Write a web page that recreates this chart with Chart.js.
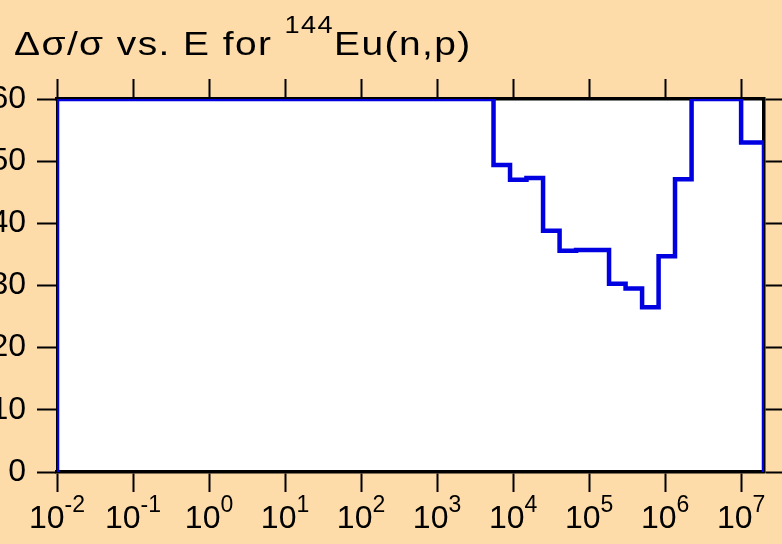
<!DOCTYPE html>
<html>
<head>
<meta charset="utf-8">
<script src="https://cdn.jsdelivr.net/npm/chart.js@4/dist/chart.umd.min.js"></script>
<style>
  html, body { margin: 0; padding: 0; background: #fddcaa; }
  #wrap { position: relative; width: 782px; height: 544px; }
</style>
</head>
<body>
<div id="wrap"><canvas id="errPlot"></canvas></div>
<script>
// group boundaries (eV) and relative uncertainty (%) per group
const edges  = [1e-2, 5.53e3, 9.12e3, 1.5e4, 2.48e4, 4.09e4, 6.74e4, 1.11e5, 1.83e5,
                3.02e5, 4.98e5, 8.21e5, 1.35e6, 2.23e6, 1e7, 2e7];
const relErr = [60, 49.4, 47.0, 47.3, 38.8, 35.6, 35.7, 35.7, 30.3,
                29.5, 26.5, 34.7, 47.1, 60, 53.0];
const xDecades = [-2, -1, 0, 1, 2, 3, 4, 5, 6, 7];
const yTicks   = [0, 10, 20, 30, 40, 50, 60];

const FONT = "'Liberation Sans', Arial, sans-serif";

// histogram outline: rise at the first edge, step through groups, drop at the last edge
const pts = [{ x: edges[0], y: 0 }];
relErr.forEach((v, i) => pts.push({ x: edges[i], y: v }));
pts.push({ x: edges[edges.length - 1], y: relErr[relErr.length - 1] });
pts.push({ x: edges[edges.length - 1], y: 0 });

const tickGrid = { drawOnChartArea: false, tickLength: 20, tickWidth: 2, color: '#000' };

function decadeTicks(scale) {
  scale.ticks = xDecades.map(e => ({ value: Math.pow(10, e) }));
}

const plotBg = {
  id: 'plotBg',
  beforeDraw(chart) {
    const { ctx, chartArea: a } = chart;
    ctx.save();
    ctx.fillStyle = '#fff';
    ctx.fillRect(a.left, a.top, a.right - a.left, a.bottom - a.top);
    ctx.restore();
  }
};

// title and 10^n tick labels need superscripts, so draw them by hand
const labels = {
  id: 'labels',
  afterDraw(chart) {
    const ctx = chart.ctx;
    const sx = chart.scales.x;
    ctx.save();
    ctx.fillStyle = '#000';
    ctx.textBaseline = 'alphabetic';
    ctx.textAlign = 'left';

    // title, slightly widened
    ctx.save();
    ctx.translate(14, 0);
    ctx.scale(1.18, 1);
    ctx.letterSpacing = '1.2px';
    let x = 0;
    const t1 = 'Δσ/σ vs. E for ';
    ctx.font = `33px ${FONT}`;
    ctx.fillText(t1, x, 55);
    x += ctx.measureText(t1).width;
    ctx.font = `23px ${FONT}`;
    ctx.fillText('144', x, 33);
    x += ctx.measureText('144').width;
    ctx.font = `33px ${FONT}`;
    ctx.fillText('Eu(n,p)', x, 55);
    ctx.restore();

    // x tick labels
    xDecades.forEach(e => {
      const px = sx.getPixelForValue(Math.pow(10, e));
      const exp = String(e);
      ctx.font = `32px ${FONT}`;
      const wb = ctx.measureText('10').width;
      ctx.font = `23px ${FONT}`;
      const we = ctx.measureText(exp).width;
      const x0 = px - (wb + we) / 2;
      ctx.font = `32px ${FONT}`;
      ctx.fillText('10', x0, 528);
      ctx.font = `23px ${FONT}`;
      ctx.fillText(exp, x0 + wb, 512);
    });
    ctx.restore();
  }
};

new Chart(document.getElementById('errPlot'), {
  type: 'line',
  data: {
    datasets: [{
      data: pts,
      stepped: 'before',
      borderColor: '#0000e0',
      borderWidth: 4.5,
      pointRadius: 0,
      fill: false,
      clip: 0
    }]
  },
  options: {
    responsive: true,
    maintainAspectRatio: false,
    animation: false,
    layout: { padding: 0 },
    plugins: { legend: { display: false }, tooltip: { enabled: false }, title: { display: false } },
    scales: {
      x: {
        type: 'logarithmic', position: 'bottom', min: 1e-2, max: 2e7,
        ticks: { display: false },
        grid: tickGrid,
        border: { color: '#000', width: 3.5 },
        afterBuildTicks: decadeTicks,
        afterFit: s => { s.height = 72; }
      },
      x2: {
        type: 'logarithmic', position: 'top', min: 1e-2, max: 2e7,
        ticks: { display: false },
        grid: tickGrid,
        border: { color: '#000', width: 3.5 },
        afterBuildTicks: decadeTicks,
        afterFit: s => { s.height = 99; }
      },
      y: {
        type: 'linear', position: 'left', min: 0, max: 60,
        afterBuildTicks: s => { s.ticks = yTicks.map(v => ({ value: v })); },
        ticks: { color: '#000', padding: 11, font: { family: FONT, size: 32 } },
        grid: tickGrid,
        border: { color: '#000', width: 2 },
        afterFit: s => { s.width = 57; }
      },
      y2: {
        type: 'linear', position: 'right', min: 0, max: 60,
        afterBuildTicks: s => { s.ticks = yTicks.map(v => ({ value: v })); },
        ticks: { display: false },
        grid: tickGrid,
        border: { color: '#000', width: 3.5 },
        afterFit: s => { s.width = 18; }
      }
    }
  },
  plugins: [plotBg, labels]
});
</script>
</body>
</html>
